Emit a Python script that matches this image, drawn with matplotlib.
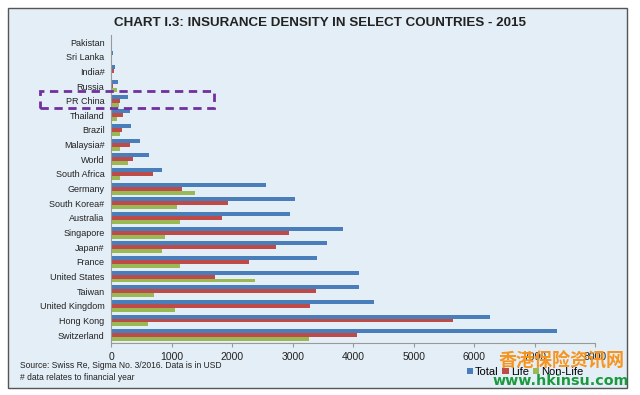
import matplotlib
matplotlib.use("Agg")
import matplotlib.pyplot as plt
import numpy as np
from matplotlib.patches import Rectangle

countries = ["Pakistan", "Sri Lanka", "India#", "Russia", "PR China", "Thailand", "Brazil",
             "Malaysia#", "World", "South Africa", "Germany", "South Korea#", "Australia",
             "Singapore", "Japan#", "France", "United States", "Taiwan", "United Kingdom",
             "Hong Kong", "Switzerland"]
total = [10, 32, 55, 110, 280, 300, 330, 470, 620, 840, 2560, 3030, 2960, 3830, 3560, 3400,
         4100, 4100, 4350, 6260, 7370]
life = [6, 14, 43, 20, 150, 200, 170, 310, 350, 680, 1170, 1930, 1830, 2940, 2720, 2270,
        1720, 3380, 3280, 5650, 4070]
nonlife = [4, 18, 12, 90, 130, 100, 150, 150, 270, 150, 1380, 1080, 1130, 890, 830, 1130,
           2380, 700, 1060, 610, 3270]
series_names = ["Total", "Life", "Non-Life"]
xticks = [0, 1000, 2000, 3000, 4000, 5000, 6000, 7000, 8000]

plt.rcParams['font.family'] = ['Liberation Sans', 'DejaVu Sans']

bg = "#e4eef6"
c_total, c_life, c_non = "#4a7ebb", "#be4b48", "#98b954"

fig = plt.figure(figsize=(6.4, 3.95), dpi=100)
fig.patch.set_facecolor("white")
# frame
fig.patches.append(Rectangle((7.5/640, 1-388/395), (627-7.5)/640, (388-7.5)/395,
                             transform=fig.transFigure, facecolor=bg, edgecolor="#555555",
                             linewidth=1.0, zorder=-5))

ax = fig.add_axes([111.4/640, 1-342.5/395, (595-111.4)/640, (342.5-34.7)/395])
ax.set_facecolor("none")
ax.set_zorder(2)
y = np.arange(len(countries))
h = 0.27
ax.barh(y - h, total, height=h, color=c_total, label=series_names[0])
ax.barh(y, life, height=h, color=c_life, label=series_names[1])
ax.barh(y + h, nonlife, height=h, color=c_non, label=series_names[2])
ax.set_ylim(len(countries) - 0.5, -0.5)
ax.set_xlim(0, 8000)
ax.set_yticks(y)
ax.set_yticklabels(countries, fontsize=6.5, color="#222222")
ax.tick_params(axis="y", length=0, pad=5)
ax.set_xticks(xticks)
ax.set_xticklabels([str(v) for v in xticks], fontsize=7.5, color="#222222")
ax.tick_params(axis="x", length=3, color="#999999", pad=4)
for s in ["top", "right"]:
    ax.spines[s].set_visible(False)
ax.spines["left"].set_color("#999999")
ax.spines["bottom"].set_color("#999999")

fig.text(320/640, 1-22.5/395, "CHART I.3: INSURANCE DENSITY IN SELECT COUNTRIES - 2015",
         ha="center", va="center", fontsize=9.6, fontweight="bold", color="#222222")

fig.text(20/640, 1-366/395, "Source: Swiss Re, Sigma No. 3/2016. Data is in USD",
         fontsize=6.15, va="center", color="#222222")
fig.text(20/640, 1-377/395, "# data relates to financial year",
         fontsize=6.15, va="center", color="#222222")

leg = ax.legend(loc="center left", bbox_to_anchor=(461/640, 1-372/395), bbox_transform=fig.transFigure,
                ncol=3, frameon=False, fontsize=8, handlelength=0.55, handleheight=0.55,
                handletextpad=0.2, columnspacing=0.35, borderpad=0)

# dashed highlight box
fig.patches.append(Rectangle((40/640, 1-108/395), (214-40)/640, (108-91)/395,
                             transform=fig.transFigure, facecolor="none", edgecolor="#7030a0",
                             linewidth=2, linestyle=(0, (3, 2)), zorder=5))

# watermark
fig.text(562/640, 1-361.5/395, "香港保险资讯网", ha="center", va="center", fontsize=13,
         fontweight="bold", color="#f7941d", family=["Noto Sans CJK SC", "DejaVu Sans"], zorder=10)
fig.text(561/640, 1-381/395, "www.hkinsu.com", ha="center", va="center", fontsize=10.3,
         fontweight="bold", color="#1a9a3c", family=["DejaVu Sans"], zorder=10)

fig.savefig("out.png", dpi=100, facecolor="white")
